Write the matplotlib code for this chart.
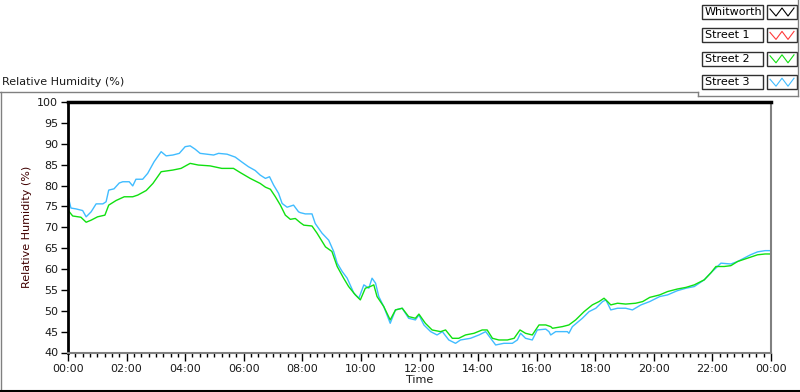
import numpy as np
import matplotlib
matplotlib.use("Agg")
import matplotlib.pyplot as plt
from matplotlib.patches import Rectangle
from matplotlib.lines import Line2D
from matplotlib.ticker import MultipleLocator, FuncFormatter

# --- data (hours since midnight, %RH) ---
series_names = ["Whitworth", "Street 1", "Street 2", "Street 3"]
series_colors = ["#000000", "#ff3a3a", "#10e010", "#40bcff"]

street2_t = [0.0, 0.16, 0.44, 0.62, 0.79, 1.01, 1.26, 1.39, 1.64, 1.92, 2.21, 2.38, 2.67, 2.9,
             3.18, 3.58, 3.86, 4.17, 4.45, 4.85, 5.25, 5.65, 5.88, 6.22, 6.56, 6.74, 6.91, 7.08,
             7.25, 7.42, 7.59, 7.76, 7.93, 8.05, 8.33, 8.5, 8.79, 9.01, 9.19, 9.41, 9.58, 9.81,
             9.98, 10.15, 10.32, 10.44, 10.55, 10.78, 11.0, 11.18, 11.41, 11.63, 11.86, 11.98,
             12.2, 12.43, 12.72, 12.89, 13.12, 13.34, 13.57, 13.86, 14.14, 14.31, 14.49, 14.71,
             15.0, 15.23, 15.43, 15.62, 15.85, 16.08, 16.31, 16.48, 16.54, 16.88, 17.1, 17.33,
             17.62, 17.9, 18.13, 18.3, 18.42, 18.53, 18.76, 19.04, 19.38, 19.62, 19.86, 20.2,
             20.47, 20.8, 21.1, 21.38, 21.72, 21.95, 22.12, 22.4, 22.63, 22.86, 23.2, 23.54,
             23.8, 24.0]
street2_rh = [74.1, 72.7, 72.4, 71.2, 71.7, 72.5, 72.9, 75.3, 76.4, 77.3, 77.3, 77.7, 78.8, 80.5,
              83.3, 83.7, 84.1, 85.3, 84.9, 84.7, 84.1, 84.1, 83.1, 81.7, 80.5, 79.6, 79.1, 77.3,
              75.3, 72.9, 71.9, 72.1, 71.1, 70.5, 70.3, 68.6, 65.3, 64.2, 60.6, 57.8, 55.8, 53.8,
              52.6, 55.4, 55.8, 56.2, 53.4, 51.0, 47.8, 50.2, 50.6, 48.6, 48.2, 49.2,
              47.0, 45.4, 45.0, 45.4, 43.4, 43.4, 44.2, 44.6, 45.4, 45.4, 43.4, 43.0,
              43.0, 43.4, 45.4, 44.6, 44.2, 46.6, 46.6, 46.2, 45.8, 46.2, 46.6, 47.8,
              49.8, 51.4, 52.2, 53.0, 52.2, 51.4, 51.8, 51.6, 51.8, 52.2, 53.2, 53.8,
              54.6, 55.2, 55.6, 56.2, 57.4, 59.1, 60.6, 60.6, 60.8, 61.8, 62.6, 63.4,
              63.6, 63.6]

street3_t = [0.0, 0.1, 0.27, 0.5, 0.62, 0.79, 0.96, 1.19, 1.3, 1.39, 1.57, 1.75, 1.87, 2.09,
             2.21, 2.32, 2.55, 2.72, 2.94, 3.18, 3.35, 3.58, 3.8, 4.0, 4.17, 4.34, 4.51, 4.74,
             4.97, 5.14, 5.43, 5.71, 5.94, 6.16, 6.39, 6.56, 6.74, 6.88, 7.02, 7.19, 7.31, 7.48,
             7.7, 7.87, 7.93, 8.1, 8.33, 8.44, 8.67, 8.9, 9.07, 9.19, 9.36, 9.53, 9.76, 9.93,
             10.1, 10.27, 10.38, 10.5, 10.61, 10.78, 11.0, 11.18, 11.41, 11.63, 11.86, 11.98,
             12.15, 12.38, 12.6, 12.78, 13.0, 13.23, 13.4, 13.74, 14.03, 14.26, 14.43, 14.6,
             14.88, 15.17, 15.34, 15.45, 15.62, 15.85, 16.02, 16.31, 16.42, 16.48, 16.65, 17.05,
             17.1, 17.22, 17.56, 17.79, 18.02, 18.25, 18.36, 18.42, 18.53, 18.76, 19.04, 19.27,
             19.56, 19.86, 20.2, 20.47, 20.8, 21.1, 21.38, 21.72, 21.95, 22.29, 22.63, 22.86,
             23.3, 23.54, 23.8, 24.0]
street3_rh = [77.5, 74.6, 74.4, 74.0, 72.5, 73.7, 75.6, 75.6, 76.1, 78.9, 79.2, 80.6, 80.9, 80.9,
              79.9, 81.5, 81.5, 82.9, 85.7, 88.1, 87.1, 87.3, 87.7, 89.3, 89.5, 88.7, 87.7, 87.5,
              87.3, 87.7, 87.5, 86.8, 85.6, 84.5, 83.6, 82.5, 81.7, 82.1, 80.1, 78.1, 75.7, 74.8,
              75.3, 73.7, 73.5, 73.2, 73.2, 70.9, 68.6, 66.9, 64.2, 61.4, 59.4, 57.8, 54.2, 53.0,
              56.2, 55.4, 57.8, 56.6, 53.4, 51.0, 47.0, 50.2, 50.6, 48.2, 47.8, 49.0,
              46.6, 45.0, 44.2, 45.0, 43.0, 42.2, 43.0, 43.4, 44.2, 45.0, 43.4, 41.8,
              42.2, 42.2, 43.0, 44.6, 43.4, 43.0, 45.4, 45.6, 45.0, 44.2, 45.0, 45.0,
              44.6, 46.2, 48.2, 49.8, 50.6, 52.2, 52.6, 51.8, 50.2, 50.6, 50.6, 50.2,
              51.4, 52.2, 53.4, 53.8, 54.8, 55.4, 55.8, 57.4, 59.1, 61.4, 61.2, 61.8,
              63.4, 64.1, 64.4, 64.4]

W, H = 800, 392


def fx(x):
    return x / W


def fy(y):
    return 1 - y / H


fig = plt.figure(figsize=(8, 3.92), dpi=100)
ax = fig.add_axes([fx(68), fy(352.5), fx(771 - 68), (352.5 - 102) / H])

ax.plot(street3_t, street3_rh, color=series_colors[3], lw=1.0)
ax.plot(street2_t, street2_rh, color=series_colors[2], lw=1.0)

ax.set_xlim(0, 24)
ax.set_ylim(40, 100)
ax.yaxis.set_major_locator(MultipleLocator(5))
ax.xaxis.set_major_locator(MultipleLocator(2))
ax.xaxis.set_minor_locator(MultipleLocator(0.25))
ax.xaxis.set_major_formatter(FuncFormatter(lambda v, p: "%02d:00" % (int(round(v)) % 24)))
ax.tick_params(axis="y", direction="out", length=5, width=1, labelsize=8, colors="#000000",
               labelcolor="#1a1a1a", pad=2)
ax.tick_params(axis="x", which="major", direction="out", length=6, width=1, labelsize=8,
               labelcolor="#1a1a1a", pad=2)
ax.tick_params(axis="x", which="minor", direction="out", length=3, width=1)

ax.spines["top"].set_linewidth(2.5)
ax.spines["top"].set_color("black")
ax.spines["left"].set_linewidth(2)
ax.spines["left"].set_color("black")
ax.spines["bottom"].set_color("#808080")
ax.spines["bottom"].set_linewidth(1.5)
ax.spines["right"].set_color("#808080")
ax.spines["right"].set_linewidth(1.5)

ax.set_ylabel("Relative Humidity (%)", fontsize=8, color="#400000", labelpad=4)
ax.set_xlabel("Time", fontsize=8, color="#1a1a1a", labelpad=1)

# graph caption and frame
fig.text(fx(2), fy(82), "Relative Humidity (%)", fontsize=8, color="#1a1a1a", va="center", ha="left")
fig.add_artist(Line2D([0, fx(698)], [fy(92), fy(92)], color="#808080", lw=1))
fig.add_artist(Line2D([fx(698), fx(698)], [fy(92), fy(96)], color="#808080", lw=1))
fig.add_artist(Line2D([fx(698), fx(798)], [fy(96), fy(96)], color="#808080", lw=1))
fig.add_artist(Line2D([fx(798), fx(798)], [fy(0), fy(96)], color="#808080", lw=1))
fig.add_artist(Line2D([fx(0.5), fx(0.5)], [fy(92), fy(391)], color="#808080", lw=1))
fig.add_artist(Line2D([0, 1], [fy(390.5), fy(390.5)], color="black", lw=1.5))

# legend (plot names and line samples)
for i, (name, col) in enumerate(zip(series_names, series_colors)):
    top = 5 + i * 23.4
    hgt = 14
    fig.add_artist(Rectangle((fx(702), fy(top + hgt)), fx(61), hgt / H, transform=fig.transFigure,
                             facecolor="white", edgecolor="#303030", lw=1))
    fig.text(fx(705), fy(top + hgt / 2), name, fontsize=8, color="black", va="center", ha="left")
    fig.add_artist(Rectangle((fx(767), fy(top + hgt)), fx(30), hgt / H, transform=fig.transFigure,
                             facecolor="white", edgecolor="#303030", lw=1))
    zx = [770, 776, 782, 788, 794]
    zy = [top + 4, top + 11, top + 3, top + 11, top + 3]
    fig.add_artist(Line2D([fx(v) for v in zx], [fy(v) for v in zy], color=col, lw=0.8))

fig.savefig("out.png", dpi=100)
